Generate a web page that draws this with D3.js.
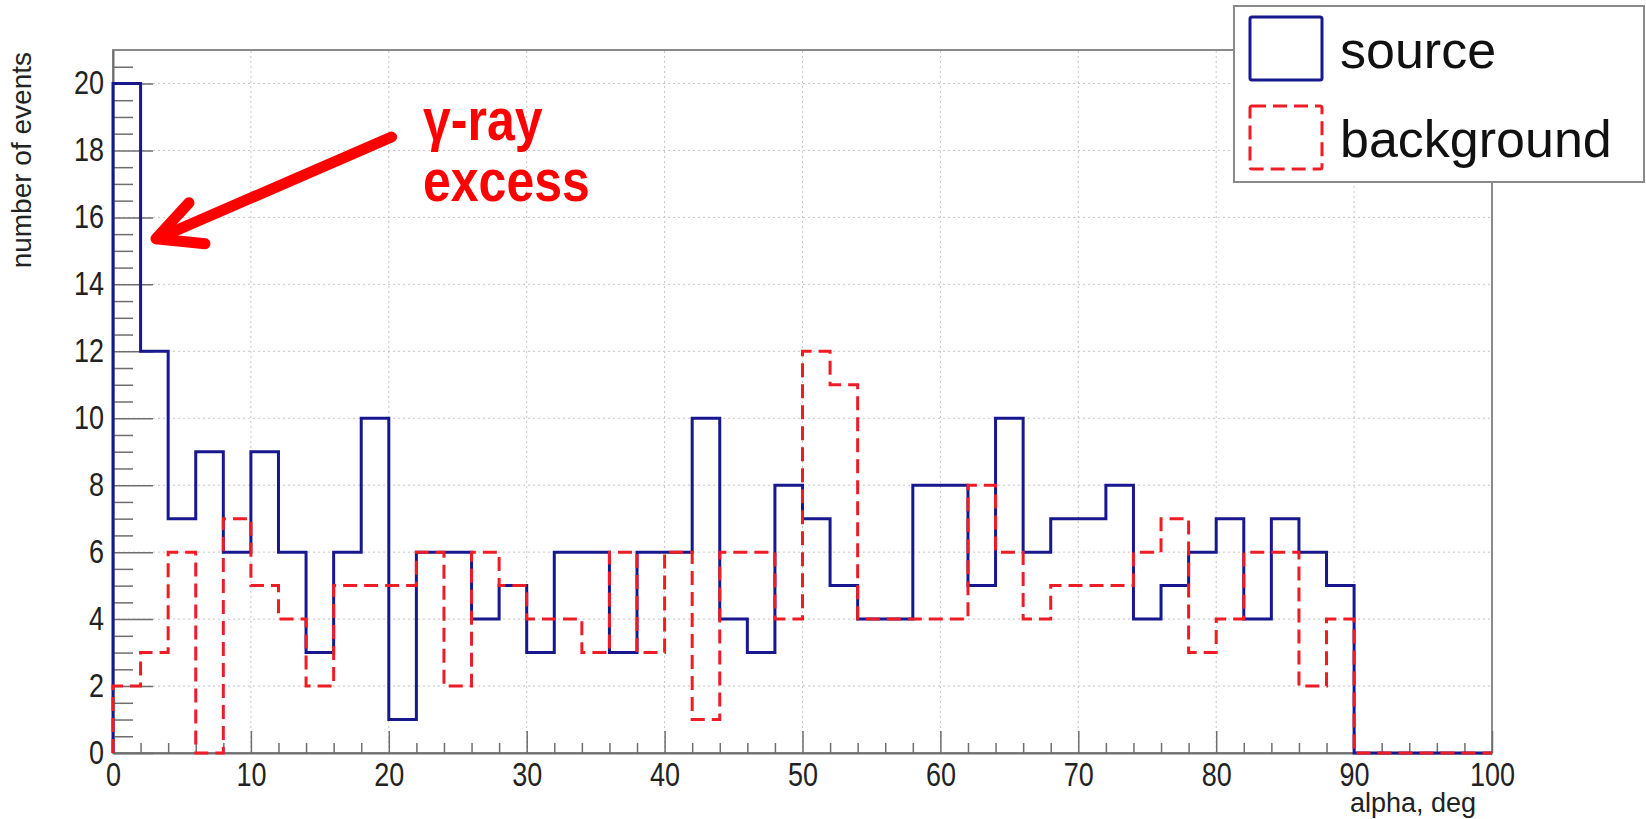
<!DOCTYPE html>
<html>
<head>
<meta charset="utf-8">
<script src="https://cdn.jsdelivr.net/npm/d3@7"></script>
<style>
  html, body { margin: 0; padding: 0; background: #fff; }
  svg text { font-family: "Liberation Sans", Arial, Helvetica, sans-serif; }
</style>
</head>
<body>
<div id="chart"></div>
<script>
// alpha histogram, 2 deg bins from 0 to 100
const binEdges = d3.range(0, 101, 2);
const sourceCounts = [20, 12, 7, 9, 6, 9, 6, 3, 6, 10, 1, 6, 6, 4, 5, 3, 6, 6, 3, 6,
  6, 10, 4, 3, 8, 7, 5, 4, 4, 8, 8, 5, 10, 6, 7, 7, 8, 4, 5, 6,
  7, 4, 7, 6, 5, 0, 0, 0, 0, 0];
const backgroundCounts = [2, 3, 6, 0, 7, 5, 4, 2, 5, 5, 5, 6, 2, 6, 5, 4, 4, 3, 6, 3,
  6, 1, 6, 6, 4, 12, 11, 4, 4, 4, 4, 8, 6, 4, 5, 5, 5, 6, 7, 3,
  4, 6, 6, 2, 4, 0, 0, 0, 0, 0];
const seriesNames = ['source', 'background'];
const xTickLabels = d3.range(0, 101, 10);
const yTickLabels = d3.range(0, 21, 2);

const width = 1646;
const height = 819;
const blue = '#17178f';
const red = '#ee1c25';

const svg = d3.select('#chart').append('svg')
  .attr('width', width)
  .attr('height', height);

const x = d3.scaleLinear().domain([0, 100]).range([113, 1492]);
const y = d3.scaleLinear().domain([0, 21]).range([753, 50]);

// grid
const grid = svg.append('g').attr('class', 'grid')
  .attr('stroke', '#c4c4c4')
  .attr('stroke-width', 1)
  .attr('stroke-dasharray', '2,3');
grid.selectAll('.gx')
  .data(xTickLabels.filter(d => d > 0 && d < 100))
  .enter().append('line')
  .attr('x1', d => x(d)).attr('x2', d => x(d))
  .attr('y1', y(0)).attr('y2', y(21));
grid.selectAll('.gy')
  .data(yTickLabels.filter(d => d > 0))
  .enter().append('line')
  .attr('x1', x(0)).attr('x2', x(100))
  .attr('y1', d => y(d)).attr('y2', d => y(d));

// frame
svg.append('rect')
  .attr('x', x(0)).attr('y', y(21))
  .attr('width', x(100) - x(0)).attr('height', y(0) - y(21))
  .attr('fill', 'none')
  .attr('stroke', '#8a8a8a')
  .attr('stroke-width', 2);

// axes, ticks pointing inward like ROOT
function styleAxis(g, fontSize) {
  g.select('.domain').attr('stroke', '#6e6e6e').attr('stroke-width', 2);
  g.selectAll('.tick line').attr('stroke', '#6e6e6e').attr('stroke-width', 1.5);
  g.selectAll('.tick text')
    .attr('fill', '#222')
    .attr('transform', 'scale(1,1.2)')
    .style('font-size', fontSize + 'px');
}

const yMinor = d3.range(0.5, 21, 0.5).filter(d => d % 2 !== 0);
svg.append('g')
  .attr('transform', `translate(${x(0)},0)`)
  .call(d3.axisLeft(y).tickValues(yMinor).tickSize(-20).tickFormat(''))
  .call(g => { styleAxis(g, 27); g.select('.domain').remove(); });
svg.append('g')
  .attr('transform', `translate(${x(0)},0)`)
  .call(d3.axisLeft(y).tickValues(yTickLabels).tickSize(-40).tickPadding(9).tickSizeOuter(0))
  .call(g => styleAxis(g, 27));

const xMinor = binEdges.filter(d => d % 10 !== 0);
svg.append('g')
  .attr('transform', `translate(0,${y(0)})`)
  .call(d3.axisBottom(x).tickValues(xMinor).tickSize(-10).tickFormat(''))
  .call(g => { styleAxis(g, 27); g.select('.domain').remove(); });
svg.append('g')
  .attr('transform', `translate(0,${y(0)})`)
  .call(d3.axisBottom(x).tickValues(xTickLabels).tickSize(-22).tickPadding(8).tickSizeOuter(0))
  .call(g => styleAxis(g, 27));

// axis titles
svg.append('text')
  .attr('x', x(100) - 16).attr('y', 812)
  .attr('text-anchor', 'end')
  .style('font-size', '27px')
  .attr('fill', '#222')
  .text('alpha, deg');

svg.append('text')
  .attr('transform', 'translate(31,52) rotate(-90)')
  .attr('text-anchor', 'end')
  .style('font-size', '28px')
  .attr('fill', '#222')
  .text('number of events');

// histogram outlines
function stepPoints(counts) {
  const pts = [[binEdges[0], 0]];
  counts.forEach((c, i) => {
    pts.push([binEdges[i], c]);
    pts.push([binEdges[i + 1], c]);
  });
  pts.push([binEdges[binEdges.length - 1], 0]);
  return pts;
}
const line = d3.line().x(d => x(d[0])).y(d => y(d[1]));

svg.append('path')
  .datum(stepPoints(sourceCounts))
  .attr('d', line)
  .attr('fill', 'none')
  .attr('stroke', blue)
  .attr('stroke-width', 3);

svg.append('path')
  .datum(stepPoints(backgroundCounts))
  .attr('d', line)
  .attr('fill', 'none')
  .attr('stroke', red)
  .attr('stroke-width', 3)
  .attr('stroke-dasharray', '14,7');

// annotation
const arrowTail = [20.2, 18.4];
const arrowTip = [2.9, 15.3];
const ann = svg.append('g').attr('stroke', '#ff0000').attr('stroke-width', 11)
  .attr('stroke-linecap', 'round').attr('fill', 'none');
ann.append('line')
  .attr('x1', x(arrowTail[0])).attr('y1', y(arrowTail[1]))
  .attr('x2', x(arrowTip[0]) + 4).attr('y2', y(arrowTip[1]) - 2);
const tx = x(arrowTip[0]);
const ty = y(arrowTip[1]);
ann.append('path')
  .attr('stroke-linejoin', 'round')
  .attr('d', `M${tx + 36},${ty - 38} L${tx + 3},${ty - 2} L${tx + 52},${ty + 3}`);

const annText = ['γ-ray', 'excess'];
annText.forEach((t, i) => {
  svg.append('g')
    .attr('transform', `translate(423,${140 + i * 61}) scale(1,1.2)`)
    .append('text')
    .style('font-size', '50px')
    .style('font-weight', 'bold')
    .attr('fill', '#ff0000')
    .text(t);
});

// legend
const legend = svg.append('g').attr('class', 'legend');
legend.append('rect')
  .attr('x', 1234).attr('y', 6)
  .attr('width', 410).attr('height', 176)
  .attr('fill', '#fff')
  .attr('stroke', '#8a8a8a')
  .attr('stroke-width', 2);
const legendItems = legend.selectAll('.item')
  .data(seriesNames)
  .enter().append('g')
  .attr('class', 'item')
  .attr('transform', (d, i) => `translate(1250,${17 + i * 89})`);
legendItems.append('rect')
  .attr('width', 72).attr('height', 63)
  .attr('rx', 2)
  .attr('fill', 'none')
  .attr('stroke', (d, i) => (i === 0 ? blue : red))
  .attr('stroke-width', 3)
  .attr('stroke-dasharray', (d, i) => (i === 0 ? null : '14,7'));
legendItems.append('text')
  .attr('x', 90).attr('y', 51)
  .style('font-size', '52px')
  .attr('fill', '#111')
  .text(d => d);
</script>
</body>
</html>
